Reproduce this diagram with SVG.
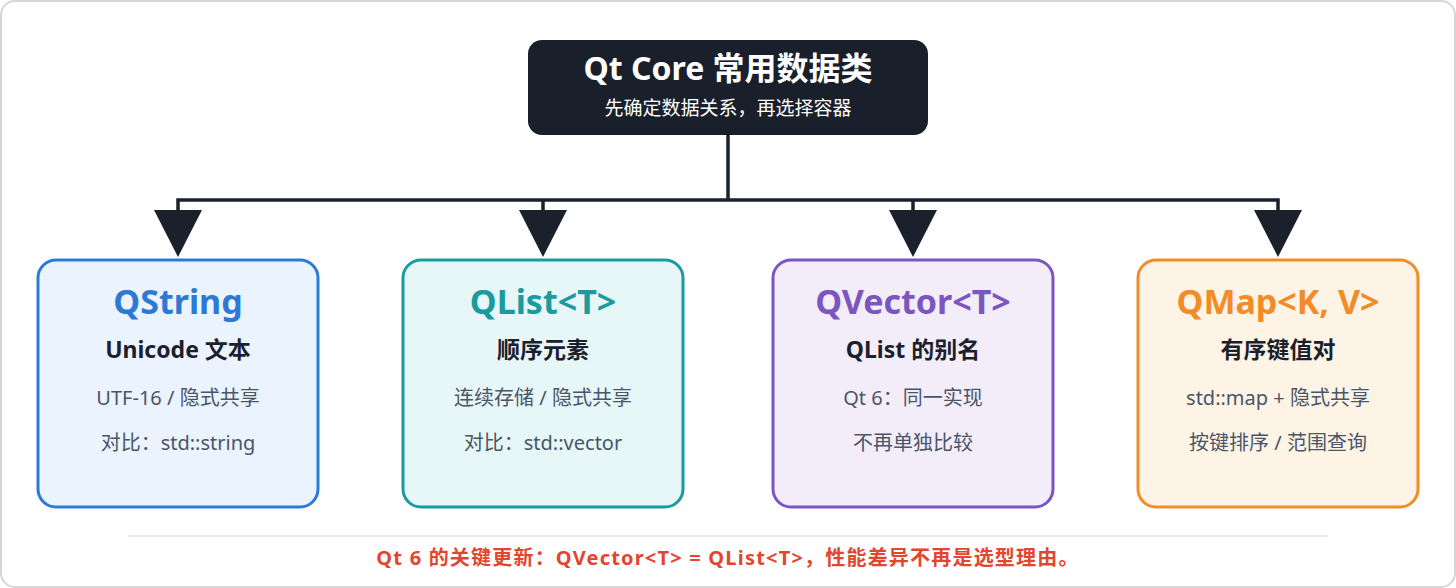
<svg xmlns="http://www.w3.org/2000/svg" width="1456" height="588" viewBox="0 0 1456 588">
<style>
text{font-family:"Noto Sans","Noto Sans CJK SC",sans-serif;text-anchor:middle}
.t{font-size:34px;font-weight:bold}
.s{font-size:23px;font-weight:bold;fill:#1a202c}
.d{font-size:20px;fill:#4a5568}
.c{fill:none;stroke:#1a202c;stroke-width:3.5}
</style>
<rect x="1" y="1" width="1454" height="586" rx="14" fill="#fff" stroke="#d4d7d4" stroke-width="2"/>
<g id="root"><rect x="528" y="40" width="400" height="95" rx="14" fill="#19202b"/>
<text x="728" y="80" style="font-size:32px;font-weight:bold" fill="#fff">Qt Core 常用数据类</text>
<text x="728" y="115" style="font-size:19px" fill="#fff">先确定数据关系，再选择容器</text></g>
<g id="connectors">
<path class="c" d="M728,135V200M178,210V200H1278V210M543,200V210M913,200V210"/>
<path d="M154,210L202,210L178,257z M519,210L567,210L543,257z M889,210L937,210L913,257z M1254,210L1302,210L1278,257z" fill="#1a202c"/>
</g>
<g id="qstring"><rect x="38" y="260" width="280" height="247" rx="18" fill="#ebf4fe" stroke="#2c7ad6" stroke-width="3"/>
<text x="178" y="314" class="t" fill="#2c7ad6">QString</text><text x="178" y="358" class="s">Unicode 文本</text>
<text x="178" y="405" class="d">UTF-16 / 隐式共享</text><text x="178" y="450" class="d">对比：std::string</text></g>
<g id="qlist"><rect x="403" y="260" width="280" height="247" rx="18" fill="#e7f7f7" stroke="#1a9ba0" stroke-width="3"/>
<text x="543" y="314" class="t" fill="#1a9ba0">QList&lt;T&gt;</text><text x="543" y="358" class="s">顺序元素</text>
<text x="543" y="405" class="d">连续存储 / 隐式共享</text><text x="543" y="450" class="d">对比：std::vector</text></g>
<g id="qvector"><rect x="773" y="260" width="280" height="247" rx="18" fill="#f3edfa" stroke="#7b56c0" stroke-width="3"/>
<text x="913" y="314" class="t" fill="#7b56c0">QVector&lt;T&gt;</text><text x="913" y="358" class="s">QList 的别名</text>
<text x="913" y="405" class="d">Qt 6：同一实现</text><text x="913" y="450" class="d">不再单独比较</text></g>
<g id="qmap"><rect x="1138" y="260" width="280" height="247" rx="18" fill="#fef4e6" stroke="#f28c28" stroke-width="3"/>
<text x="1278" y="314" class="t" fill="#f28c28">QMap&lt;K, V&gt;</text><text x="1278" y="358" class="s">有序键值对</text>
<text x="1278" y="405" class="d">std::map + 隐式共享</text><text x="1278" y="450" class="d">按键排序 / 范围查询</text></g>
<line x1="128" y1="536" x2="1328" y2="536" stroke="#e2e4e8" stroke-width="1.5"/>
<text x="728" y="565" style="font-size:20px;font-weight:bold;letter-spacing:1.2px" fill="#e3452f">Qt 6 的关键更新：QVector&lt;T&gt; = QList&lt;T&gt;，性能差异不再是选型理由。</text>
</svg>
